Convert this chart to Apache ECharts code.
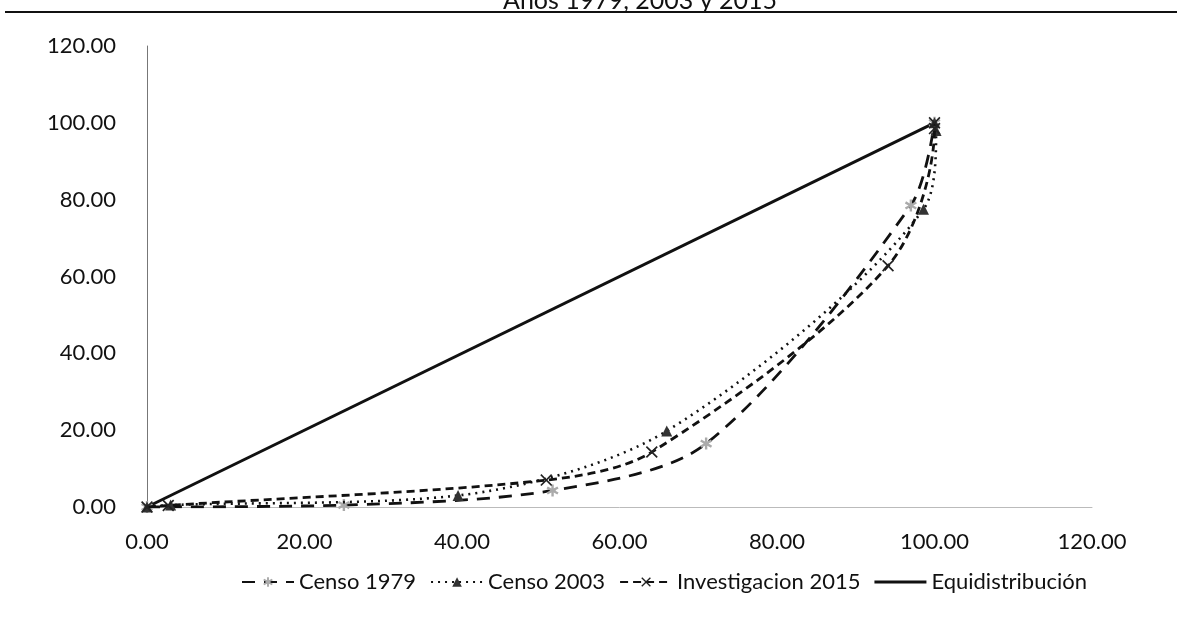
<!DOCTYPE html>
<html><head><meta charset="utf-8">
<script src="https://cdn.jsdelivr.net/npm/echarts@6/dist/echarts.min.js"></script>
<style>html,body{margin:0;padding:0;background:#fff;}#c{width:1177px;height:620px;}</style>
</head><body><div id="c"></div>
<script>
var titleText = 'Años 1979, 2003 y 2015';
var seriesNames = ['Censo 1979', 'Censo 2003', 'Investigacion 2015', 'Equidistribución'];
var censo1979 = [[0,0],[25,0.5],[51.5,4.3],[71,16.5],[97,78.5],[100,100]];
var censo2003 = [[0,0],[3,0.5],[39.5,3],[66,19.8],[98.6,77.5],[100.2,98],[100,100]];
var inv2015 = [[0,0],[2.7,0.4],[50.7,7],[64.1,14.3],[94.1,62.8],[100,98.5],[100,100]];
var equi = [[0,0],[100,100]];
var axisTicks = {min:0, max:120, interval:20};

var font = 'Lato, "Open Sans", sans-serif';
var xPath = 'path://M0,1L1,0L5,4L9,0L10,1L6,5L10,9L9,10L5,6L1,10L0,9L4,5Z';
var starPath = 'path://M4,0L6,0L6,3.3L9,1.6L10,3.3L7,5L10,6.7L9,8.4L6,6.7L6,10L4,10L4,6.7L1,8.4L0,6.7L3,5L0,3.3L1,1.6L4,3.3Z';
var barPath = 'path://M0,0L52,0L52,3L0,3Z';

var chart = echarts.init(document.getElementById('c'));
chart.setOption({
  animation:false,
  backgroundColor:'#fff',
  title:{text:titleText, left:635, textAlign:'center', top:-17,
    textStyle:{fontFamily:font, fontSize:25, fontWeight:'normal', color:'#111'}},
  graphic:[{type:'line', shape:{x1:5,y1:12,x2:1177,y2:12}, style:{stroke:'#111', lineWidth:2}, z:100}],
  grid:{left:147, right:85, top:46, bottom:113},
  legend:{top:566, left:236, itemWidth:52, itemHeight:12, itemGap:14,
    textStyle:{fontFamily:font, fontSize:22, color:'#111'},
    data:[{name:seriesNames[0]},{name:seriesNames[1]},{name:seriesNames[2]},{name:seriesNames[3], icon:barPath}]},
  xAxis:{type:'value', min:axisTicks.min, max:axisTicks.max, interval:axisTicks.interval,
    axisLine:{show:true, lineStyle:{color:'#bbb', width:1}}, axisTick:{show:false},
    splitLine:{show:false},
    axisLabel:{fontFamily:font, fontSize:22, color:'#111', margin:24,
      formatter:function(v){return v.toFixed(2);}}},
  yAxis:{type:'value', min:axisTicks.min, max:axisTicks.max, interval:axisTicks.interval,
    axisLine:{show:true, lineStyle:{color:'#777', width:1}}, axisTick:{show:false},
    splitLine:{show:false},
    axisLabel:{fontFamily:font, fontSize:22, color:'#111', margin:31,
      formatter:function(v){return v.toFixed(2);}}},
  series:[
    {name:seriesNames[0], type:'line', data:censo1979, smooth:0.3, symbol:starPath, symbolSize:12,
      itemStyle:{color:'#aaa'}, lineStyle:{color:'#111', width:2.8, type:[13,9]}, z:3},
    {name:seriesNames[1], type:'line', data:censo2003, smooth:0.3, symbol:'triangle', symbolSize:11,
      itemStyle:{color:'#333'}, lineStyle:{color:'#111', width:2.6, type:[2,5]}, z:4},
    {name:seriesNames[2], type:'line', data:inv2015, smooth:0.3, symbol:xPath, symbolSize:12,
      itemStyle:{color:'#222'}, lineStyle:{color:'#111', width:2.8, type:[8,5]}, z:5},
    {name:seriesNames[3], type:'line', data:equi, symbol:'none',
      lineStyle:{color:'#111', width:3, type:'solid'}, itemStyle:{color:'#111'}, z:2}
  ]
});
</script></body></html>
